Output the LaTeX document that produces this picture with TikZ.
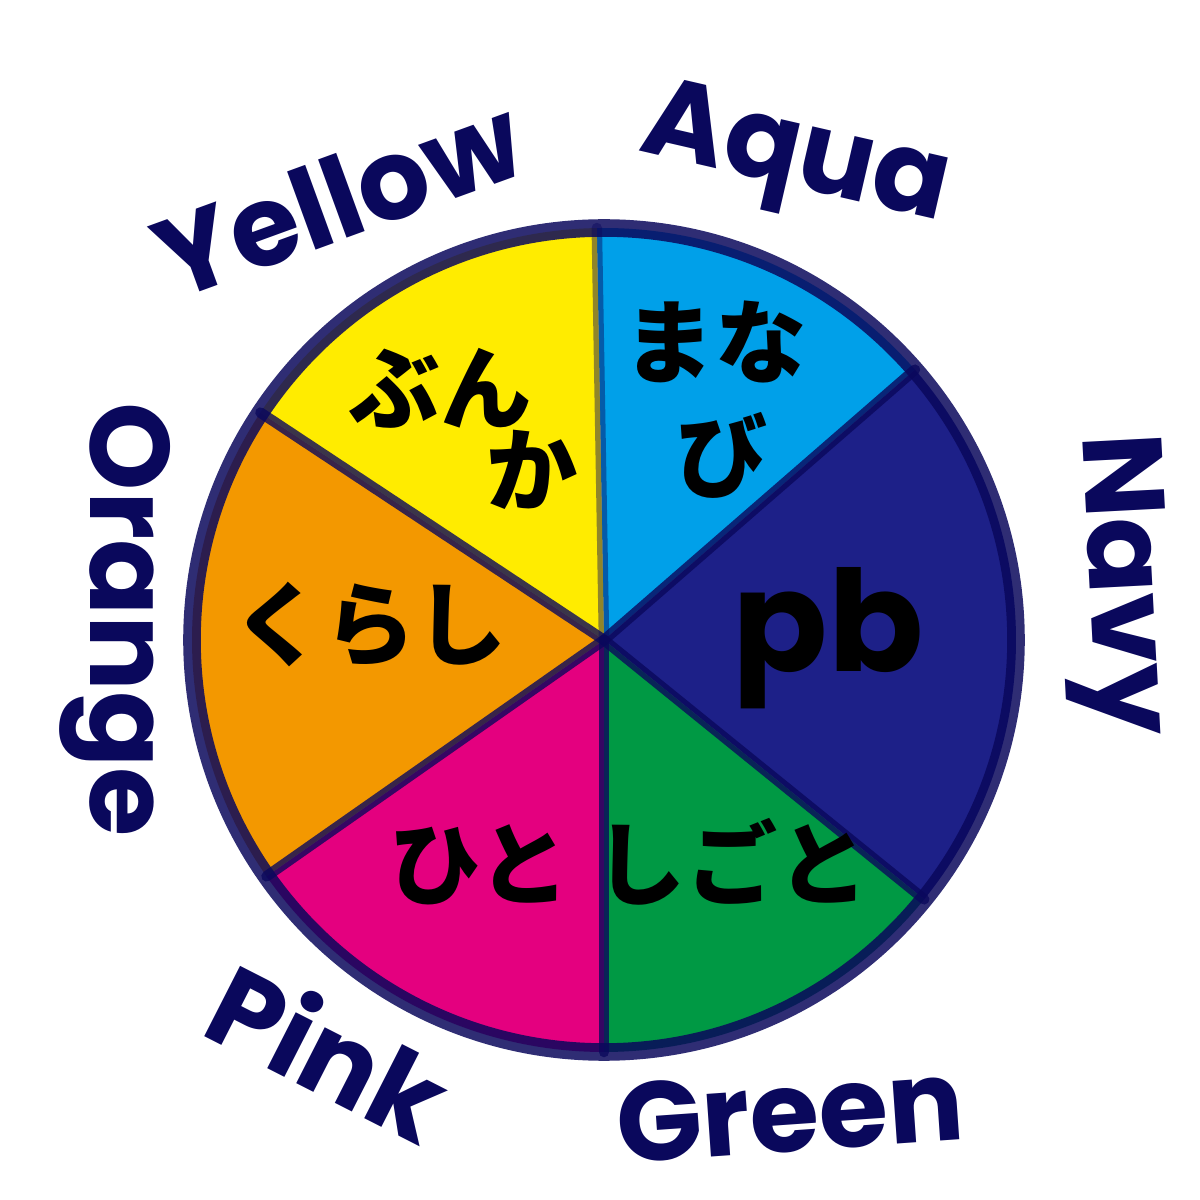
\documentclass[tikz,border=0pt]{standalone}
\usepackage{fontspec}
\usepackage{tikz}
\newfontfamily\jpfont{Noto Sans CJK JP}
\newfontfamily\handfont{Poppins}
\definecolor{yellowfill}{RGB}{255,236,0}
\definecolor{aquafill}{RGB}{0,160,233}
\definecolor{navyfill}{RGB}{29,32,136}
\definecolor{greenfill}{RGB}{0,153,68}
\definecolor{pinkfill}{RGB}{228,0,127}
\definecolor{orangefill}{RGB}{243,152,0}
\definecolor{ink}{RGB}{10,8,92}

\begin{document}
\begin{tikzpicture}[x=1cm, y=1cm]
    \tikzstyle{rim}=[draw=ink, line width=5pt, draw opacity=0.85]
    \tikzstyle{spoke}=[draw=ink, line width=3pt, draw opacity=0.8, line cap=round]
    \tikzstyle{kana}=[font=\jpfont\bfseries\fontsize{26}{30}\selectfont, text=black, inner sep=0pt]
    \tikzstyle{colour name}=[font=\handfont\bfseries\fontsize{32}{32}\selectfont, text=ink, inner sep=0pt]

    \useasboundingbox (0,0) rectangle (12,12);
    \coordinate (C) at (6.04,5.6);

    % Fill the six sectors of the wheel
    \foreach \from / \to / \col in {91/41/aquafill, 41/-39/navyfill, -39/-90/greenfill,
                                    -90/-145/pinkfill, -145/-213.5/orangefill, 146.5/91/yellowfill}
        \fill[\col] (C) -- ++(\from:4.12) arc[start angle=\from, end angle=\to, radius=4.12] -- cycle;

    % Draw the spokes from the centre to the rim
    \foreach \name / \ang in {1/91, 2/41, 3/-39, 4/-90, 5/-145, 6/146.5}
        \path (C) ++(\ang:4.12) coordinate (R-\name);
    \draw[spoke, draw opacity=0.45] (C) -- (R-1);
    \foreach \name in {2,...,6}
        \draw[spoke] (C) -- (R-\name);

    % The rim
    \draw[rim] (C) circle (4.12);

    % Words inside the sectors
    \node[kana] (bun) at (4.40,8.12) {ぶん};
    \node[kana] (ka) at (5.32,7.30) {か};
    \node[kana] (mana) at (7.15,8.58) {まな};
    \node[kana] (bi) at (7.22,7.45) {び};
    \node[kana] (kurashi) at (3.70,5.75) {くらし};
    \node[kana] (hito) at (4.80,3.35) {ひと};
    \node[kana] (shigoto) at (7.32,3.38) {しごと};
    \node[kana, font=\handfont\bfseries\fontsize{40}{40}\selectfont] (pb) at (8.28,5.62) {pb};

    % Colour names round the wheel
    \node[colour name, rotate=20] (yellow) at (3.38,10.02) {Yellow};
    \node[colour name, rotate=-13] (aqua) at (7.95,10.38) {Aqua};
    \node[colour name, rotate=-87] (navy) at (11.15,6.15) {Navy};
    \node[colour name, rotate=4] (green) at (7.90,0.88) {Green};
    \node[colour name, rotate=-27] (pink) at (3.30,1.50) {Pink};
    \node[colour name, rotate=-90] (orange) at (1.15,5.80) {Orange};
\end{tikzpicture}
\end{document}
